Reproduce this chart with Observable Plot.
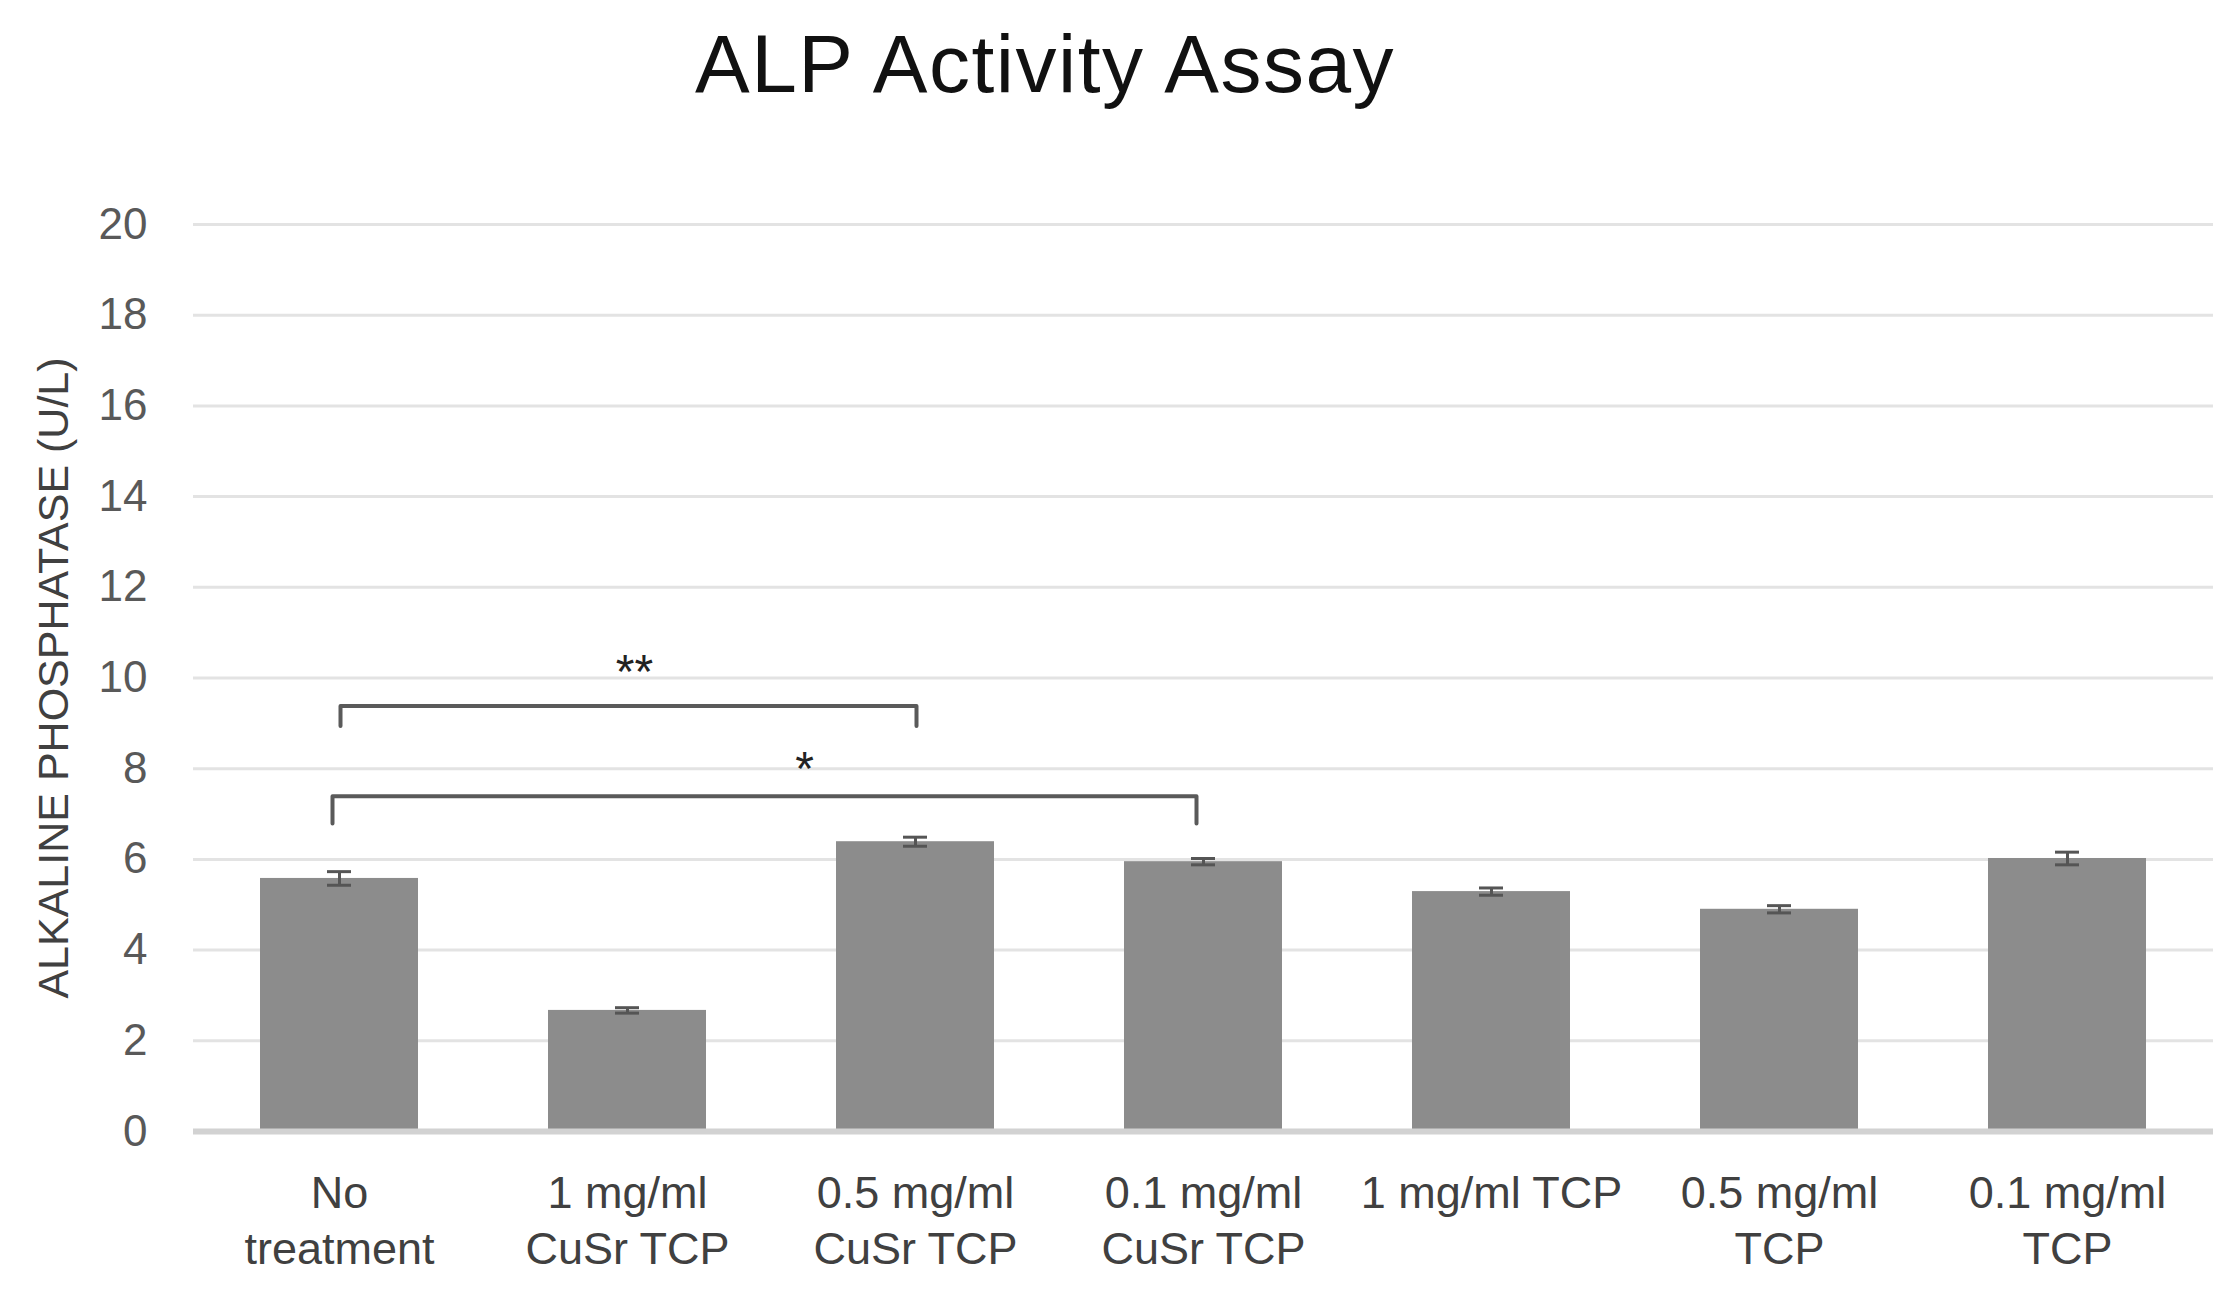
<!DOCTYPE html>
<html><head><meta charset="utf-8">
<script src="https://cdn.jsdelivr.net/npm/d3@7"></script>
<script src="https://cdn.jsdelivr.net/npm/@observablehq/plot@0.6"></script>
<style>
body{margin:0;background:#fff;}
#wrap{width:2240px;}
#title{position:relative;height:140px;}
#title span{position:absolute;left:1045px;top:23px;transform:translateX(-50%);font:82px/82px "Liberation Sans",Arial,sans-serif;letter-spacing:1.5px;color:#111;white-space:nowrap;}
</style></head><body>
<div id="wrap"><div id="title"><span>ALP Activity Assay</span></div><div id="chart"></div></div>
<script>
const categories = ["No treatment", "1 mg/ml CuSr TCP", "0.5 mg/ml CuSr TCP", "0.1 mg/ml CuSr TCP", "1 mg/ml TCP", "0.5 mg/ml TCP", "0.1 mg/ml TCP"];
const tickLabels = ["No\ntreatment", "1 mg/ml\nCuSr TCP", "0.5 mg/ml\nCuSr TCP", "0.1 mg/ml\nCuSr TCP", "1 mg/ml TCP", "0.5 mg/ml\nTCP", "0.1 mg/ml\nTCP"];
const values = [5.58, 2.67, 6.39, 5.95, 5.29, 4.90, 6.02];
const errors = [0.15, 0.06, 0.10, 0.07, 0.08, 0.08, 0.14];
const yTicks = [0, 2, 4, 6, 8, 10, 12, 14, 16, 18, 20];
const yLabel = "ALKALINE PHOSPHATASE (U/L)";
const bracketFrom = [categories[0], categories[0]];
const bracketTo = [categories[2], categories[3]];
const bracketTop = [9.38, 7.39];
const bracketBottom = [8.94, 6.79];
const bracketLabels = ["**", "*"];
const bracketLabelY = [10.25, 8.11];

const rows = categories.map((c, i) => ({cat: c, v: values[i], lo: values[i] - errors[i], hi: values[i] + errors[i]}));
const bracketPaths = bracketFrom.map((f, i) => [
  {cat: f, y: bracketBottom[i]}, {cat: f, y: bracketTop[i]},
  {cat: bracketTo[i], y: bracketTop[i]}, {cat: bracketTo[i], y: bracketBottom[i]}
]);
const bracketDx = [1, -7];
const starDx = [295, 465];

const errColor = "#555555";
const chart = Plot.plot({
  width: 2240,
  height: 1162,
  marginTop: 84,
  marginBottom: 171,
  marginLeft: 193,
  marginRight: 27,
  style: {fontFamily: '"Liberation Sans", Arial, sans-serif', fontSize: "44px", background: "#fff"},
  x: {domain: categories, paddingInner: 0.45, paddingOuter: 0.225, axis: null},
  y: {domain: [0, 20], axis: null},
  marks: [
    Plot.ruleY(yTicks.filter(t => t > 0), {stroke: "#e3e3e3", strokeWidth: 3}),
    Plot.axisY({ticks: yTicks, tickSize: 0, tickPadding: 46, fill: "#595959", fontSize: 44, label: null}),
    Plot.barY(rows, {x: "cat", y: "v", fill: "#8c8c8c"}),
    Plot.ruleY([0], {stroke: "#d2d2d2", strokeWidth: 6}),
    Plot.ruleX(rows, {x: "cat", y1: "lo", y2: "hi", stroke: errColor, strokeWidth: 3}),
    Plot.tickY(rows, {x: "cat", y: "lo", stroke: errColor, strokeWidth: 3, insetLeft: 67, insetRight: 67}),
    Plot.tickY(rows, {x: "cat", y: "hi", stroke: errColor, strokeWidth: 3, insetLeft: 67, insetRight: 67}),
    ...bracketPaths.map((p, i) => Plot.line(p, {x: "cat", y: "y", stroke: "#5a5a5a", strokeWidth: 4, dx: bracketDx[i]})),
    ...bracketLabels.map((s, i) => Plot.text([s], {x: () => bracketFrom[i], y: () => bracketLabelY[i], text: d => d, dx: starDx[i], dy: 6, fontSize: 48, fill: "#222"})),
    Plot.text(categories, {x: d => d, text: (d, i) => tickLabels[i], frameAnchor: "bottom", lineAnchor: "top", dy: 36, lineHeight: 1.26, fontSize: 45, fill: "#404040"}),
    Plot.text([yLabel], {text: d => d, frameAnchor: "left", textAnchor: "middle", lineAnchor: "middle", rotate: -90, dx: -139, fontSize: 43, fill: "#404040"})
  ]
});
document.getElementById("chart").appendChild(chart);
</script>
</body></html>
